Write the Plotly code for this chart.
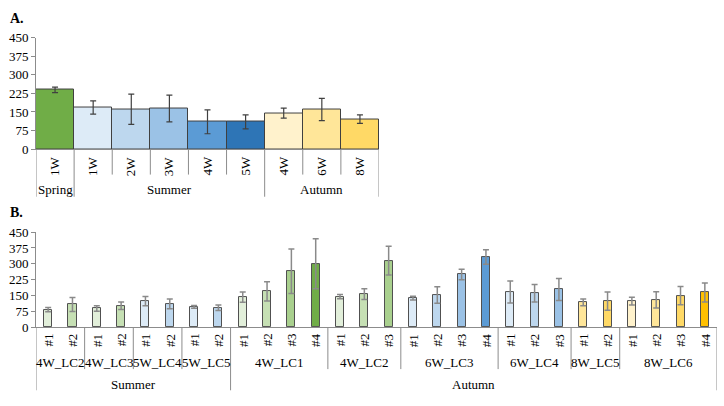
import plotly.graph_objects as go

# ---------------- Panel A data ----------------
A_labels = ["1W", "1W", "2W", "3W", "4W", "5W", "4W", "6W", "8W"]
A_seasons = ["Spring", "Summer", "Autumn"]
A_season_sizes = [1, 5, 3]
A_values = [239, 168, 161, 164, 110, 110, 145, 160, 121]
A_errors = [11, 27, 61, 54, 48, 28, 20, 45, 17]
A_colors = ["#70AD47", "#DDEBF7", "#BDD7EE", "#9BC2E6", "#5B9BD5", "#2E75B6",
            "#FFF2CC", "#FFE699", "#FFD966"]

# ---------------- Panel B data ----------------
B_seasons = ["Summer", "Autumn"]
B_season_group_counts = [4, 6]
B_groups = ["4W_LC2", "4W_LC3", "5W_LC4", "5W_LC5",
            "4W_LC1", "4W_LC2", "6W_LC3", "6W_LC4", "8W_LC5", "8W_LC6"]
B_group_sizes = [2, 2, 2, 2, 4, 3, 4, 3, 2, 4]
B_values = [84, 108, 89, 102, 124, 111, 97, 93,
            143, 170, 265, 300,
            145, 157, 315,
            138, 153, 250, 332,
            167, 161, 179,
            118, 124,
            124, 130, 150, 165]
B_errors = [10, 33, 13, 18, 22, 23, 6, 13,
            24, 45, 105, 118,
            10, 25, 68,
            9, 39, 25, 34,
            52, 41, 52,
            16, 43,
            18, 38, 43, 45]
B_colors = ["#E2EFDA", "#C6E0B4", "#E2EFDA", "#C6E0B4",
            "#DDEBF7", "#BDD7EE", "#DDEBF7", "#BDD7EE",
            "#E2EFDA", "#C6E0B4", "#A9D08E", "#70AD47",
            "#E2EFDA", "#C6E0B4", "#A9D08E",
            "#DDEBF7", "#BDD7EE", "#9BC2E6", "#5B9BD5",
            "#DDEBF7", "#BDD7EE", "#9BC2E6",
            "#FFE699", "#FFD966",
            "#FFF2CC", "#FFE699", "#FFD966", "#FFC000"]
B_labels = ["#%d" % (k + 1) for n in B_group_sizes for k in range(n)]

W, H = 724, 406
FONT = "Liberation Serif"
LINE = "#8c8c8c"


def py(p):
    return 1 - p / H


def px(p):
    return p / W


fig = go.Figure()

xa = list(range(len(A_values)))
fig.add_trace(go.Bar(
    x=xa, y=A_values, width=1.0, xaxis="x", yaxis="y",
    marker=dict(color=A_colors, line=dict(color="#404040", width=1)),
    error_y=dict(type="data", array=A_errors, color="#404040", thickness=1.2, width=3),
    showlegend=False, hoverinfo="y"))

xb = list(range(len(B_values)))
fig.add_trace(go.Bar(
    x=xb, y=B_values, width=0.33, xaxis="x2", yaxis="y2",
    marker=dict(color=B_colors, line=dict(color="#505050", width=1)),
    error_y=dict(type="data", array=B_errors, color="#8a8a8a", thickness=1.5, width=3),
    showlegend=False, hoverinfo="y"))

yax = dict(range=[0, 450], dtick=75, showgrid=False, zeroline=False,
           showline=True, linecolor=LINE, linewidth=1, ticks="outside",
           ticklen=4, tickcolor=LINE, tickfont=dict(family=FONT, size=13, color="black"),
           fixedrange=True)

fig.update_layout(
    width=W, height=H, margin=dict(l=0, r=0, t=0, b=0),
    paper_bgcolor="white", plot_bgcolor="white", bargap=0,
    font=dict(family=FONT, size=13, color="black"),
    xaxis=dict(domain=[px(36), px(379)], range=[-0.5, len(A_values) - 0.5],
               showticklabels=False, showgrid=False, zeroline=False,
               showline=True, linecolor=LINE, ticks="", anchor="y"),
    yaxis=dict(domain=[py(147.6), py(31.7)], anchor="x", **yax),
    xaxis2=dict(domain=[px(36), px(717)], range=[-0.5, len(B_values) - 0.5],
                showticklabels=False, showgrid=False, zeroline=False,
                showline=True, linecolor=LINE, ticks="", anchor="y2"),
    yaxis2=dict(domain=[py(332.7), py(233.7)], anchor="x2", **yax),
)

ann = []
shapes = []

# Titles
ann.append(dict(text="<b>A.</b>", x=px(8), y=py(12), xref="paper", yref="paper",
                xanchor="left", yanchor="middle", showarrow=False,
                font=dict(family=FONT, size=14)))
ann.append(dict(text="<b>B.</b>", x=px(8), y=py(213), xref="paper", yref="paper",
                xanchor="left", yanchor="middle", showarrow=False,
                font=dict(family=FONT, size=14)))


def vline(xref, xv, y0p, y1p):
    shapes.append(dict(type="line", xref=xref, yref="paper", x0=xv, x1=xv,
                       y0=py(y0p), y1=py(y1p), line=dict(color=LINE, width=1)))


# ---- Panel A axis labels ----
for i, lab in enumerate(A_labels):
    ann.append(dict(text=lab, x=i, y=py(165), xref="x", yref="paper",
                    textangle=-90, showarrow=False, xanchor="center", yanchor="middle",
                    font=dict(family=FONT, size=13)))
season_bounds = [0]
for n in A_season_sizes:
    season_bounds.append(season_bounds[-1] + n)
for i in range(len(A_labels) + 1):
    b = i - 0.5
    if i in season_bounds:
        vline("x", b, 147.6, 197)
    else:
        vline("x", b, 147.6, 174)
for s, name in enumerate(A_seasons):
    c = (season_bounds[s] + season_bounds[s + 1] - 1) / 2
    ann.append(dict(text=name, x=c, y=py(190), xref="x", yref="paper",
                    showarrow=False, xanchor="center", yanchor="middle",
                    font=dict(family=FONT, size=13)))

# ---- Panel B axis labels ----
for i, lab in enumerate(B_labels):
    ann.append(dict(text=lab, x=i, y=py(346), xref="x2", yref="paper",
                    textangle=-90, showarrow=False, xanchor="center", yanchor="middle",
                    font=dict(family=FONT, size=13)))
group_bounds = [0]
for n in B_group_sizes:
    group_bounds.append(group_bounds[-1] + n)
sg_bounds = [0]
for n in B_season_group_counts:
    sg_bounds.append(sg_bounds[-1] + n)
season_item_bounds = [group_bounds[g] for g in sg_bounds]
for gb in group_bounds:
    if gb in season_item_bounds:
        vline("x2", gb - 0.5, 332.7, 398)
    else:
        vline("x2", gb - 0.5, 332.7, 376)
for g, name in enumerate(B_groups):
    c = (group_bounds[g] + group_bounds[g + 1] - 1) / 2
    ann.append(dict(text=name, x=c, y=py(369), xref="x2", yref="paper",
                    showarrow=False, xanchor="center", yanchor="middle",
                    font=dict(family=FONT, size=13)))
for s, name in enumerate(B_seasons):
    c = (season_item_bounds[s] + season_item_bounds[s + 1] - 1) / 2
    ann.append(dict(text=name, x=c, y=py(392), xref="x2", yref="paper",
                    showarrow=False, xanchor="center", yanchor="middle",
                    font=dict(family=FONT, size=13)))

fig.update_layout(annotations=ann, shapes=shapes)
fig.write_html("out.html", config={"displayModeBar": False},
               post_script="document.body.style.margin='0';document.body.style.overflow='hidden';")
